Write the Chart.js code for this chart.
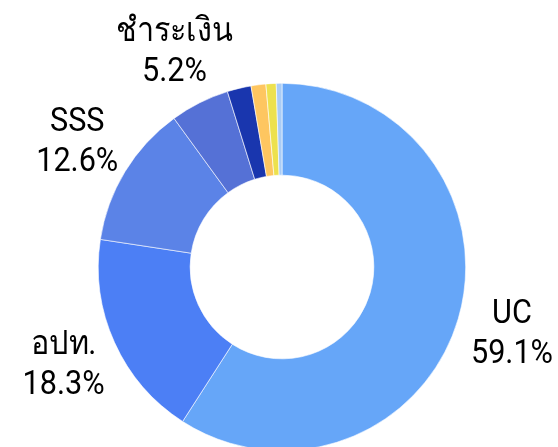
<!doctype html>
<html lang="th">
  <head>
    <title>Payment share</title>
    <script src="https://cdn.jsdelivr.net/npm/chart.js"></script>
    <style>
      html, body { margin: 0; padding: 0; background: #fff; overflow: hidden; }
      #wrap { position: relative; width: 558px; height: 455px; }
    </style>
  </head>
  <body>
    <div id="wrap"><canvas id="donut"></canvas></div>
    <script>
      const labels = ['UC', 'อปท.', 'SSS', 'ชำระเงิน', 'อื่น ๆ 1', 'อื่น ๆ 2', 'อื่น ๆ 3', 'อื่น ๆ 4'];
      const shares = [59.1, 18.3, 12.6, 5.2, 2.1, 1.3, 0.9, 0.5];
      const colors = ['#66a6f8', '#4c7ff5', '#5b83e7', '#5571d6', '#1936ae', '#fec660', '#ede14e', '#a9ccf6'];
      const shownLabels = 4; // only the big slices get a label

      // draws name + percent outside each big slice
      const outsideLabels = {
        id: 'outsideLabels',
        afterDatasetsDraw(chart) {
          const ctx = chart.ctx;
          const meta = chart.getDatasetMeta(0);
          const squeeze = 0.9; // the original font is a bit narrow
          meta.data.forEach((arc, i) => {
            if (i >= shownLabels) return;
            const p = arc.getProps(['x', 'y', 'startAngle', 'endAngle', 'outerRadius'], true);
            const mid = (p.startAngle + p.endAngle) / 2;
            const r = p.outerRadius + 56;
            const x = p.x + Math.cos(mid) * r;
            const y = p.y + Math.sin(mid) * r;
            ctx.save();
            ctx.fillStyle = '#000';
            ctx.textAlign = 'center';
            ctx.textBaseline = 'middle';
            ctx.font = '34px Roboto, "Noto Sans", "DejaVu Sans", sans-serif';
            ctx.translate(x, y);
            ctx.scale(squeeze, 1);
            ctx.fillText(labels[i], 0, -20);
            ctx.fillText(shares[i].toFixed(1) + '%', 0, 20);
            ctx.restore();
          });
        }
      };

      new Chart(document.getElementById('donut'), {
        type: 'doughnut',
        data: {
          labels: labels,
          datasets: [{
            data: shares,
            backgroundColor: colors,
            borderColor: '#ffffff',
            borderWidth: 0.6
          }]
        },
        options: {
          responsive: true,
          maintainAspectRatio: false,
          animation: false,
          cutout: '50%',
          layout: { padding: { top: 83, bottom: 4, left: 98, right: 92 } },
          plugins: {
            legend: { display: false },
            tooltip: { enabled: false }
          }
        },
        plugins: [outsideLabels]
      });
    </script>
  </body>
</html>
